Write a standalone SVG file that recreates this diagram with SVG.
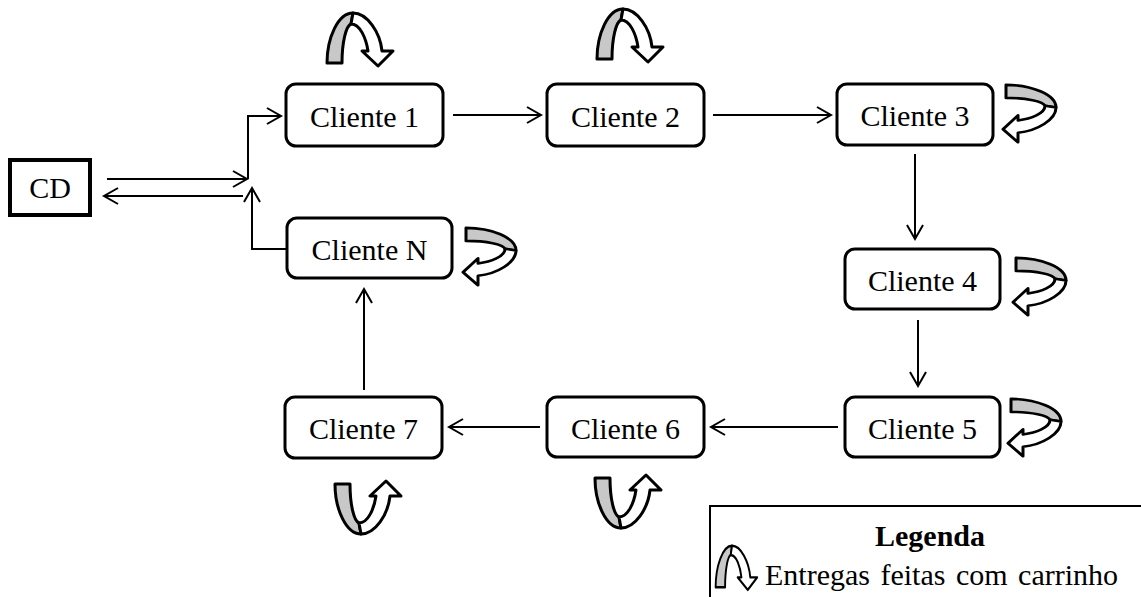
<svg xmlns="http://www.w3.org/2000/svg" xmlns:xlink="http://www.w3.org/1999/xlink" width="1141" height="597" viewBox="0 0 1141 597">
  <style>
    .box { fill: #ffffff; stroke: #000000; stroke-width: 3; }
    .cd { fill: #ffffff; stroke: #000000; stroke-width: 4; }
    .lbl { font-family: "Liberation Serif", "Times New Roman", serif; font-size: 30px; fill: #000000; text-anchor: middle; }
    .conn { fill: none; stroke: #000000; stroke-width: 2; }
    .gray { fill: #c8c8c8; stroke: #000000; stroke-width: 3; stroke-linejoin: round; }
    .white { fill: #ffffff; stroke: #000000; stroke-width: 3; stroke-linejoin: round; }
  </style>
  <defs>
    <marker id="arr" markerUnits="userSpaceOnUse" markerWidth="18" markerHeight="20" viewBox="0 0 18 20" refX="15" refY="10" orient="auto">
      <path d="M1,2 L15,10 L1,18" fill="none" stroke="#000000" stroke-width="2"/>
    </marker>
    <g id="turn">
      <path class="gray" d="M1,51 C1,26 12,1 27,1 L25,12 C20,14 16,30 16,51 Z"/>
      <path class="white" d="M27,1 C41,1 54,20 56,39 L67,39 L52,54 L36,39 L42,39 C40,26 34,12 25,12 Z"/>
    </g>
  </defs>

  <g id="connectors">
    <path class="conn" d="M107,179 H247" marker-end="url(#arr)"/>
    <path class="conn" d="M243,196 H104" marker-end="url(#arr)"/>
    <path class="conn" d="M248,179 V116 H281" marker-end="url(#arr)"/>
    <path class="conn" d="M287,249 H252 V188" marker-end="url(#arr)"/>
    <path class="conn" d="M453,115 H541" marker-end="url(#arr)"/>
    <path class="conn" d="M713,115 H831" marker-end="url(#arr)"/>
    <path class="conn" d="M915,154 V239" marker-end="url(#arr)"/>
    <path class="conn" d="M918,320 V386" marker-end="url(#arr)"/>
    <path class="conn" d="M838,427 H711" marker-end="url(#arr)"/>
    <path class="conn" d="M540,427 H449" marker-end="url(#arr)"/>
    <path class="conn" d="M364,390 V289" marker-end="url(#arr)"/>
  </g>

  <g id="cd">
    <rect class="cd" x="10" y="160" width="80" height="55"/>
    <text class="lbl" x="50" y="198">CD</text>
  </g>
  <g id="cliente1">
    <rect class="box" x="286" y="84" width="157" height="62" rx="10"/>
    <text class="lbl" x="364.5" y="127">Cliente 1</text>
    <use xlink:href="#turn" transform="translate(326,12)"/>
  </g>
  <g id="cliente2">
    <rect class="box" x="547" y="84" width="157" height="62" rx="10"/>
    <text class="lbl" x="625.5" y="127">Cliente 2</text>
    <use xlink:href="#turn" transform="translate(596,8)"/>
  </g>
  <g id="cliente3">
    <rect class="box" x="837" y="84" width="156" height="61" rx="10"/>
    <text class="lbl" x="915" y="126">Cliente 3</text>
    <use xlink:href="#turn" transform="translate(1057,84) rotate(90) scale(0.87,1)"/>
  </g>
  <g id="cliente4">
    <rect class="box" x="845" y="249" width="155" height="60" rx="10"/>
    <text class="lbl" x="922.5" y="291">Cliente 4</text>
    <use xlink:href="#turn" transform="translate(1067,257) rotate(90) scale(0.87,1)"/>
  </g>
  <g id="cliente5">
    <rect class="box" x="845" y="397" width="155" height="60" rx="10"/>
    <text class="lbl" x="922.5" y="439">Cliente 5</text>
    <use xlink:href="#turn" transform="translate(1062,398) rotate(90) scale(0.87,1)"/>
  </g>
  <g id="cliente6">
    <rect class="box" x="547" y="397" width="157" height="60" rx="10"/>
    <text class="lbl" x="625.5" y="439">Cliente 6</text>
    <use xlink:href="#turn" transform="translate(594,529) scale(1,-1)"/>
  </g>
  <g id="cliente7">
    <rect class="box" x="285" y="397" width="157" height="61" rx="10"/>
    <text class="lbl" x="363.5" y="439">Cliente 7</text>
    <use xlink:href="#turn" transform="translate(334,535) scale(1,-1)"/>
  </g>
  <g id="clienteN">
    <rect class="box" x="287" y="218" width="165" height="60" rx="10"/>
    <text class="lbl" x="369.5" y="260">Cliente N</text>
    <use xlink:href="#turn" transform="translate(517,227) rotate(90) scale(0.87,1)"/>
  </g>

  <g id="legend">
    <rect x="710" y="506" width="440" height="100" fill="#ffffff" stroke="#000000" stroke-width="2"/>
    <text class="lbl" x="930" y="546" font-weight="bold">Legenda</text>
    <use xlink:href="#turn" transform="translate(715,545) scale(0.63,0.83)"/>
    <text class="lbl" x="765" y="585" style="text-anchor:start" word-spacing="3">Entregas feitas com carrinho</text>
  </g>
</svg>
